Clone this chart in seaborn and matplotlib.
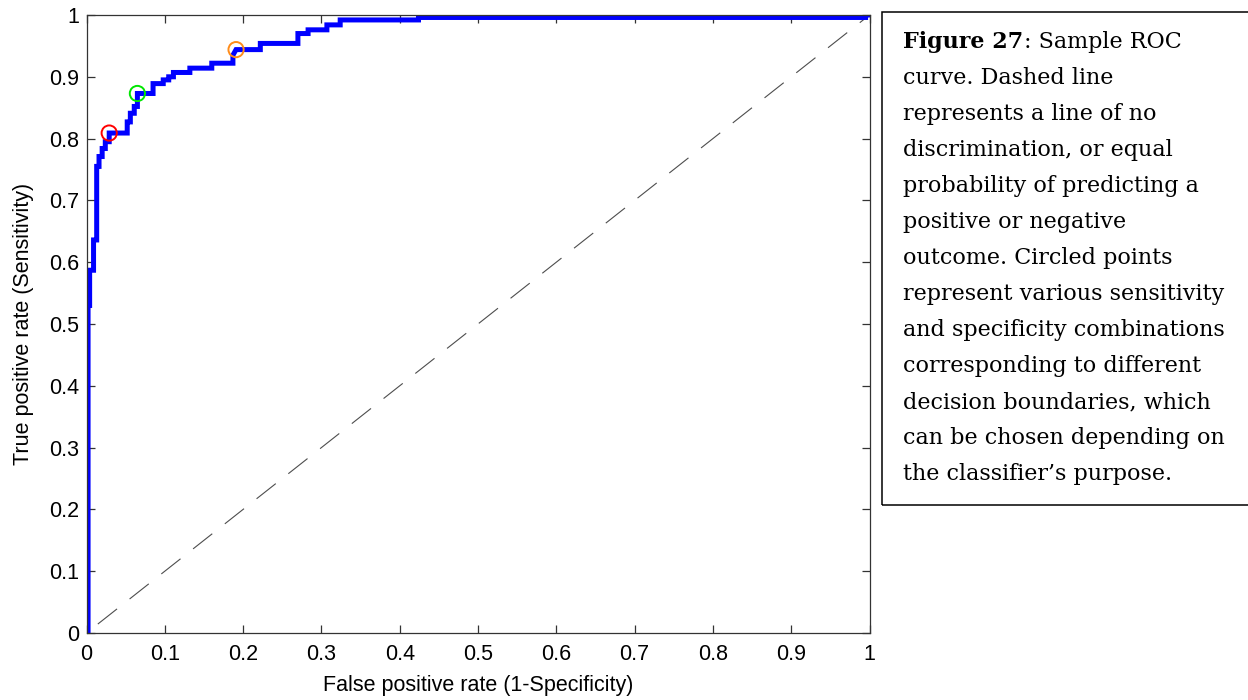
import numpy as np
import pandas as pd
import matplotlib
matplotlib.use("Agg")
import matplotlib.pyplot as plt
from matplotlib.patches import Rectangle
import seaborn as sns

# ROC curve vertices (false positive rate, true positive rate)
fpr = [0.002, 0.002, 0.004, 0.004, 0.009, 0.009, 0.013, 0.013, 0.016, 0.016,
       0.020, 0.020, 0.024, 0.024, 0.029, 0.029, 0.052, 0.052, 0.056, 0.056,
       0.061, 0.061, 0.065, 0.065, 0.085, 0.085, 0.098, 0.098, 0.105, 0.105,
       0.111, 0.111, 0.132, 0.132, 0.160, 0.160, 0.187, 0.187, 0.191, 0.222,
       0.222, 0.270, 0.270, 0.283, 0.283, 0.307, 0.307, 0.324, 0.324, 0.424,
       0.424, 0.995, 0.995, 1.000]
tpr = [0.000, 0.530, 0.530, 0.587, 0.587, 0.636, 0.636, 0.755, 0.755, 0.771,
       0.771, 0.784, 0.784, 0.795, 0.795, 0.809, 0.809, 0.827, 0.827, 0.841,
       0.841, 0.852, 0.852, 0.873, 0.873, 0.889, 0.889, 0.895, 0.895, 0.900,
       0.900, 0.907, 0.907, 0.914, 0.914, 0.922, 0.922, 0.935, 0.944, 0.944,
       0.954, 0.954, 0.970, 0.970, 0.976, 0.976, 0.984, 0.984, 0.992, 0.992,
       0.996, 0.996, 1.000, 1.000]

# Selected operating points on the curve
point_fpr = [0.029, 0.065, 0.191]
point_tpr = [0.809, 0.873, 0.944]
point_colors = ["#ff0000", "#00e600", "#ff8c1a"]

# Line of no discrimination
chance = [0.0, 1.0]

tick_values = [0.0, 0.1, 0.2, 0.3, 0.4, 0.5, 0.6, 0.7, 0.8, 0.9, 1.0]
tick_labels = ["0", "0.1", "0.2", "0.3", "0.4", "0.5", "0.6", "0.7", "0.8", "0.9", "1"]

caption_title = "Figure 27"
caption_lines = [
    ": Sample ROC",
    "curve. Dashed line",
    "represents a line of no",
    "discrimination, or equal",
    "probability of predicting a",
    "positive or negative",
    "outcome. Circled points",
    "represent various sensitivity",
    "and specificity combinations",
    "corresponding to different",
    "decision boundaries, which",
    "can be chosen depending on",
    "the classifier\u2019s purpose.",
]

sns.set_style("ticks")
plt.rcParams["font.family"] = ["Liberation Sans", "DejaVu Sans"]
plt.rcParams["text.color"] = "black"
plt.rcParams["axes.labelcolor"] = "black"

W, H = 1248, 700
fig = plt.figure(figsize=(W / 100, H / 100), dpi=100)
ax = fig.add_axes([86.5 / W, 1 - 633 / H, (869.5 - 86.5) / W, (633 - 15) / H])

roc = pd.DataFrame({"fpr": fpr, "tpr": tpr})
sns.lineplot(x=chance, y=chance, ax=ax, color="#4d4d4d", lw=0.8,
             linestyle=(23.4, (22, 14.4)), sort=False, estimator=None)
sns.lineplot(data=roc, x="fpr", y="tpr", ax=ax, color="#0000ff", lw=3.6,
             sort=False, estimator=None, solid_joinstyle="miter")
for px, py, pc in zip(point_fpr, point_tpr, point_colors):
    sns.scatterplot(x=[px], y=[py], ax=ax, s=120, marker="o",
                    facecolors="none", edgecolor=pc, linewidth=1.4, zorder=5)

ax.set_xlim(0, 1)
ax.set_ylim(0, 1)
ax.set_xticks(tick_values)
ax.set_xticklabels(tick_labels)
ax.set_yticks(tick_values)
ax.set_yticklabels(tick_labels)
ax.tick_params(axis="both", which="both", direction="in", length=5.5, width=0.9,
               color="#333333", top=True, right=True, labelsize=15.5,
               labelcolor="black")
ax.tick_params(axis="x", pad=8)
ax.tick_params(axis="y", pad=5)
for sp in ax.spines.values():
    sp.set_visible(True)
    sp.set_color("#333333")
    sp.set_linewidth(0.9)
ax.set_xlabel("False positive rate (1-Specificity)", fontsize=15.5, labelpad=7)
ax.set_ylabel("True positive rate (Sensitivity)", fontsize=15.5, labelpad=11)

# Caption box to the right of the plot
box = Rectangle((881.7 / W, 1 - 505 / H), 1.2, (505 - 12.3) / H,
                transform=fig.transFigure, fill=False, ec="black", lw=1.1,
                clip_on=False)
fig.add_artist(box)

x0 = 903.3 / W
first_base = 48.3
line_gap = 36.0
serif = ["DejaVu Serif"]
title = fig.text(x0, 1 - first_base / H, caption_title, fontsize=16,
                 fontweight="bold", family=serif, va="baseline", ha="left",
                 color="black")
fig.canvas.draw()
bb = title.get_window_extent(renderer=fig.canvas.get_renderer())
fig.text(bb.x1 / W, 1 - first_base / H, caption_lines[0], fontsize=16,
         family=serif, va="baseline", ha="left", color="black")
for i, line in enumerate(caption_lines[1:], start=1):
    fig.text(x0, 1 - (first_base + i * line_gap) / H, line, fontsize=16,
             family=serif, va="baseline", ha="left", color="black")

fig.savefig("out.png", dpi=100)
